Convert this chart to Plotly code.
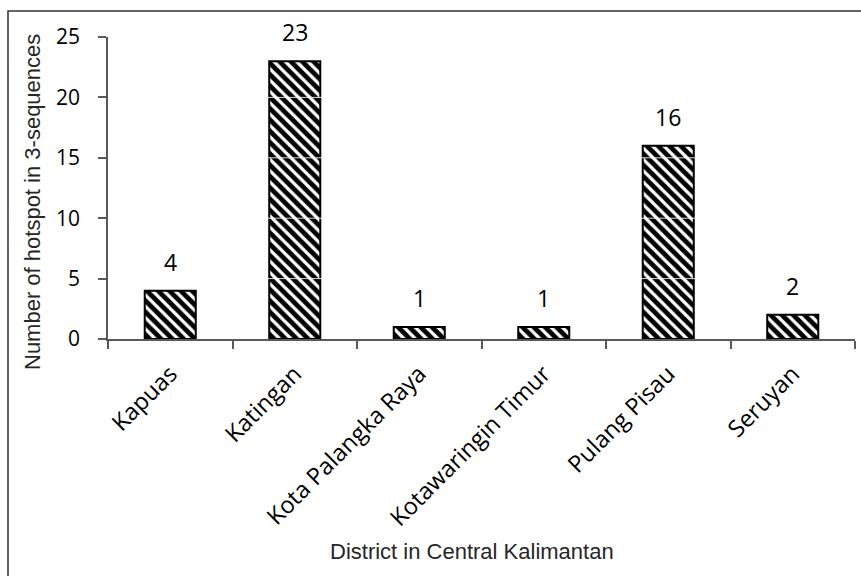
import plotly.graph_objects as go

# Hotspot counts in 3-sequences per district of Central Kalimantan
districts = ["Kapuas", "Katingan", "Kota Palangka Raya",
             "Kotawaringin Timur", "Pulang Pisau", "Seruyan"]
hotspots = [4, 23, 1, 1, 16, 2]
y_ticks = [0, 5, 10, 15, 20, 25]

W, H = 861, 576
ML, MR, MT, MB = 108, 6, 37, 237
plot_w = W - ML - MR
plot_h = H - MT - MB


def px_to_paper_x(px):
    return (px - ML) / plot_w


def px_to_paper_y(py):
    return (H - MB - py) / plot_h


tick_font = dict(family="Open Sans", size=21, color="black")
cat_font = dict(family="Open Sans", size=23.5, color="black")
value_font = dict(family="Open Sans", size=23, color="black")
title_font = dict(family="Liberation Sans", size=22, color="#262626")

fig = go.Figure()
fig.add_trace(go.Bar(
    x=districts,
    y=hotspots,
    width=0.41,
    marker=dict(
        color="white",
        line=dict(color="black", width=2),
        pattern=dict(shape="\\", fgcolor="black", bgcolor="white",
                     fgopacity=1, fillmode="replace", size=8, solidity=0.6),
    ),
    showlegend=False,
    hoverinfo="x+y",
))

# value labels above each bar
for d, v in zip(districts, hotspots):
    fig.add_annotation(x=d, y=v, text=str(v), showarrow=False,
                       yshift=29, yanchor="middle", font=value_font)

# faint gridlines showing through the hatched bars
for t in y_ticks[1:-1]:
    fig.add_shape(type="line", xref="paper", yref="y", x0=0, x1=1, y0=t, y1=t,
                  line=dict(color="rgba(255,255,255,0.85)", width=1), layer="above")

# outer frame (top and left edges visible)
fig.add_shape(type="rect", xref="paper", yref="paper",
              x0=px_to_paper_x(8), x1=px_to_paper_x(W + 20),
              y0=px_to_paper_y(H + 20), y1=px_to_paper_y(11),
              line=dict(color="#333333", width=1.5), fillcolor="rgba(0,0,0,0)",
              layer="above")

# axis titles
fig.add_annotation(xref="paper", yref="paper",
                   x=px_to_paper_x(32), y=px_to_paper_y(202),
                   text="Number of hotspot in 3-sequences", textangle=-90,
                   showarrow=False, xanchor="center", yanchor="middle",
                   font=title_font)
fig.add_annotation(xref="paper", yref="paper",
                   x=px_to_paper_x(472), y=px_to_paper_y(551),
                   text="District in Central Kalimantan",
                   showarrow=False, xanchor="center", yanchor="middle",
                   font=title_font)

fig.update_layout(
    width=W, height=H,
    margin=dict(l=ML, r=MR, t=MT, b=MB, pad=0),
    paper_bgcolor="white", plot_bgcolor="white",
    xaxis=dict(
        tickson="boundaries", ticks="outside", ticklen=8, tickwidth=1.5,
        tickcolor="#595959", showline=True, linecolor="#595959", linewidth=1.5,
        tickangle=-45, tickfont=cat_font, ticklabelstandoff=10,
        showgrid=False,
    ),
    yaxis=dict(
        range=[0, 25], tickvals=y_ticks, ticks="outside", ticklen=8,
        tickwidth=1.5, tickcolor="#595959", showline=True,
        linecolor="#595959", linewidth=1.5, tickfont=tick_font,
        ticklabelstandoff=14, showgrid=False, zeroline=False,
    ),
)

fig.write_html("out.html")
